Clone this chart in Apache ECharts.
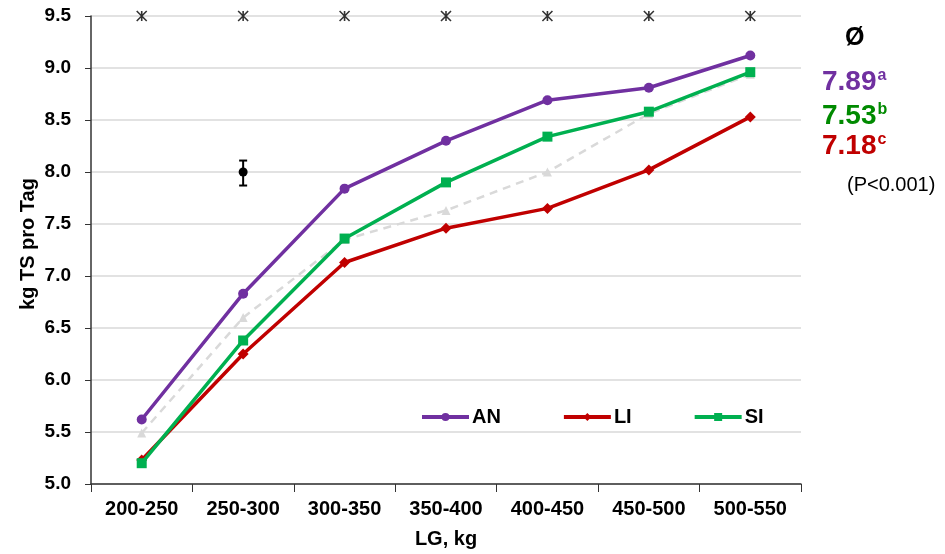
<!DOCTYPE html>
<html><head><meta charset="utf-8">
<script src="https://cdn.jsdelivr.net/npm/echarts@6/dist/echarts.min.js"></script>
<style>html,body{margin:0;padding:0;background:#fff}#c{width:945px;height:554px}</style>
</head><body><div id="c"></div>
<script>
const categories = ['200-250','250-300','300-350','350-400','400-450','450-500','500-550'];
const AN = [5.62, 6.83, 7.84, 8.30, 8.69, 8.81, 9.12];
const LI = [5.23, 6.25, 7.13, 7.46, 7.65, 8.02, 8.53];
const SI = [5.20, 6.38, 7.36, 7.90, 8.34, 8.58, 8.96];
const REF = [5.49, 6.60, 7.35, 7.63, 8.00, 8.56, 8.94];
const sigMarks = [9.5, 9.5, 9.5, 9.5, 9.5, 9.5, 9.5];
const errPoint = [['250-300', 8.0, 7.87, 8.11]];
const yTicks = [5.0, 5.5, 6.0, 6.5, 7.0, 7.5, 8.0, 8.5, 9.0, 9.5];
const means = [['7.89','a','#7030A0'],['7.53','b','#008A00'],['7.18','c','#C00000']];
const yName = 'kg TS pro Tag';
const xName = 'LG, kg';

const FONT = 'Liberation Sans, Arial, sans-serif';
const chart = echarts.init(document.getElementById('c'));
const asterisk = 'path://M0,0L10,10M10,0L0,10M5,0L5,10';
const colors = {AN: '#7030A0', LI: '#C00000', SI: '#00B050'};

chart.setOption({
  animation: false,
  grid: {left: 91, right: 144, top: 16, bottom: 67},
  legend: {
    data: ['AN','LI','SI'].map(n => ({name: n, lineStyle: {width: 4, color: colors[n]}})),
    left: 415, top: 402, itemGap: 61, itemWidth: 47, itemHeight: 10,
    textStyle: {fontFamily: FONT, fontWeight: 'bold', fontSize: 20, color: '#000', padding: [0,0,0,-2]}
  },
  xAxis: {
    type: 'category', data: categories, boundaryGap: true,
    name: xName, nameLocation: 'middle', nameGap: 45,
    nameTextStyle: {fontFamily: FONT, fontWeight: 'bold', fontSize: 20, color: '#000'},
    axisLine: {lineStyle: {color: '#333', width: 1.5}},
    axisTick: {show: true, length: 8, lineStyle: {color: '#333'}},
    axisLabel: {fontFamily: FONT, fontWeight: 'bold', fontSize: 20, color: '#000', margin: 15},
    splitLine: {show: false}
  },
  yAxis: {
    type: 'value', min: 5.0, max: 9.5, interval: 0.5,
    axisLine: {show: true, lineStyle: {color: '#333', width: 1.5}},
    axisTick: {show: true, length: 6, lineStyle: {color: '#333'}},
    axisLabel: {fontFamily: FONT, fontWeight: 'bold', fontSize: 19, color: '#000', margin: 20,
      formatter: v => yTicks.includes(+v.toFixed(1)) ? v.toFixed(1) : ''},
    splitLine: {show: true, lineStyle: {color: '#D9D9D9', width: 1.5}}
  },
  series: [
    {name: 'REF', type: 'line', data: REF, symbol: 'triangle', symbolSize: 9, z: 1,
     lineStyle: {color: '#D9D9D9', width: 2.5, type: [8, 6]}, itemStyle: {color: '#D9D9D9'}},
    {name: 'AN', type: 'line', data: AN, symbol: 'circle', symbolSize: 10, z: 3,
     lineStyle: {color: colors.AN, width: 3.5}, itemStyle: {color: colors.AN}},
    {name: 'LI', type: 'line', data: LI, symbol: 'diamond', symbolSize: 11, z: 2,
     lineStyle: {color: colors.LI, width: 3.5}, itemStyle: {color: colors.LI}},
    {name: 'SI', type: 'line', data: SI, symbol: 'rect', symbolSize: 10, z: 4,
     lineStyle: {color: colors.SI, width: 3.5}, itemStyle: {color: colors.SI}},
    {name: 'sig', type: 'scatter', data: sigMarks, symbol: asterisk, symbolSize: 10, z: 5,
     itemStyle: {color: 'none', borderColor: '#000', borderWidth: 1.6}},
    {name: 'err', type: 'custom', z: 6, data: errPoint,
     renderItem: (params, api) => {
       const c = api.coord([api.value(0), api.value(1)]);
       const lo = api.coord([api.value(0), api.value(2)]);
       const hi = api.coord([api.value(0), api.value(3)]);
       const st = {stroke: '#000', lineWidth: 2};
       return {type: 'group', children: [
         {type: 'line', shape: {x1: c[0], y1: lo[1], x2: c[0], y2: hi[1]}, style: st},
         {type: 'line', shape: {x1: c[0]-4, y1: lo[1], x2: c[0]+4, y2: lo[1]}, style: st},
         {type: 'line', shape: {x1: c[0]-4, y1: hi[1], x2: c[0]+4, y2: hi[1]}, style: st},
         {type: 'circle', shape: {cx: c[0], cy: c[1], r: 4.5}, style: {fill: '#000'}}
       ]};
     },
     encode: {x: 0, y: 1}}
  ],
  graphic: [
    {type: 'text', x: 28, y: 244, rotation: Math.PI / 2,
     style: {text: yName, fontFamily: FONT, fontWeight: 'bold', fontSize: 20, fill: '#000', align: 'center', verticalAlign: 'middle'}},
    {type: 'text', x: 845, y: 38, style: {text: 'Ø', fontFamily: FONT, fontWeight: 'bold', fontSize: 25, fill: '#000', verticalAlign: 'middle'}},
    ...means.map((m, i) => ({
      type: 'text', x: 822, y: [82, 116, 146][i],
      style: {text: '{v|' + m[0] + '}{s|' + m[1] + '}', verticalAlign: 'middle', rich: {
        v: {fontFamily: FONT, fontWeight: 'bold', fontSize: 28, fill: m[2], color: m[2]},
        s: {fontFamily: FONT, fontWeight: 'bold', fontSize: 16, fill: m[2], color: m[2], verticalAlign: 'top', padding: [0,0,12,1]}
      }}
    })),
    {type: 'text', x: 847, y: 185, style: {text: '(P<0.001)', fontFamily: FONT, fontSize: 20, fill: '#000', verticalAlign: 'middle'}}
  ]
});
</script></body></html>
